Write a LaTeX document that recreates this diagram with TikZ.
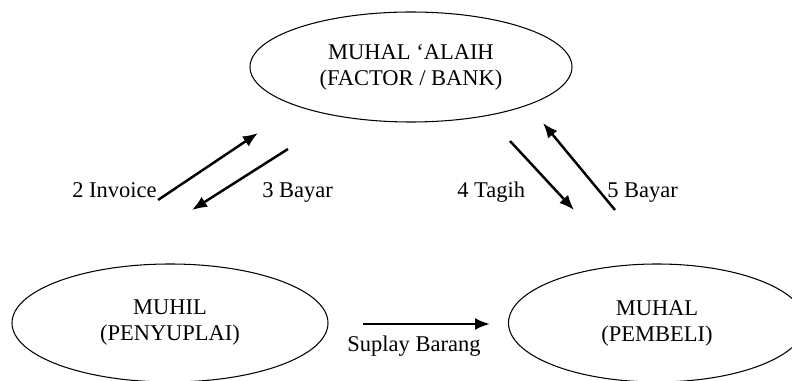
\documentclass[tikz,border=0pt]{standalone}
\usepackage{fontspec}
\setmainfont{Liberation Serif}
\usetikzlibrary{shapes.geometric,arrows.meta}

\begin{document}
\begin{tikzpicture}[x=1cm,y=1cm,
  party/.style={ellipse,draw,line width=0.6pt,inner sep=0pt,align=center,font=\fontsize{12.8}{14.8}\selectfont},
  flow/.style={line width=1.4pt,-{Latex[length=0.3cm,width=0.24cm]}},
  flowlabel/.style={inner sep=0pt,font=\fontsize{12.8}{14.8}\selectfont}]
\path[use as bounding box] (0,0) rectangle (15.84,7.62);
\node[party,minimum width=6.44cm,minimum height=2.20cm] (alaih) at (8.22,6.28) {MUHAL ‘ALAIH\\(FACTOR / BANK)};
\node[party,minimum width=6.32cm,minimum height=2.36cm] (muhil) at (3.40,1.16) {MUHIL\\(PENYUPLAI)};
\node[party,minimum width=5.94cm,minimum height=2.36cm] (muhal) at (13.14,1.16) {MUHAL\\(PEMBELI)};
\coordinate (invfrom) at (3.16,3.62);
\coordinate (invto) at (5.16,4.96);
\coordinate (bay3from) at (5.76,4.64);
\coordinate (bay3to) at (3.84,3.42);
\coordinate (tagfrom) at (10.20,4.80);
\coordinate (tagto) at (11.48,3.42);
\coordinate (bay5from) at (12.30,3.42);
\coordinate (bay5to) at (10.86,5.16);
\coordinate (supfrom) at (7.26,1.14);
\coordinate (supto) at (9.80,1.14);
\draw[flow] (invfrom) -- (invto);
\draw[flow] (bay3from) -- (bay3to);
\draw[flow] (tagfrom) -- (tagto);
\draw[flow] (bay5from) -- (bay5to);
\draw[flow] (supfrom) -- (supto);
\node[flowlabel,anchor=base east] (invoice) at (3.14,3.66) {2 Invoice};
\node[flowlabel,anchor=base west] (bayar3) at (5.24,3.66) {3 Bayar};
\node[flowlabel,anchor=base west] (tagih) at (9.14,3.66) {4 Tagih};
\node[flowlabel,anchor=base west] (bayar5) at (12.14,3.66) {5 Bayar};
\node[flowlabel,anchor=base] (suplay) at (8.28,0.58) {Suplay Barang};
\end{tikzpicture}
\end{document}
